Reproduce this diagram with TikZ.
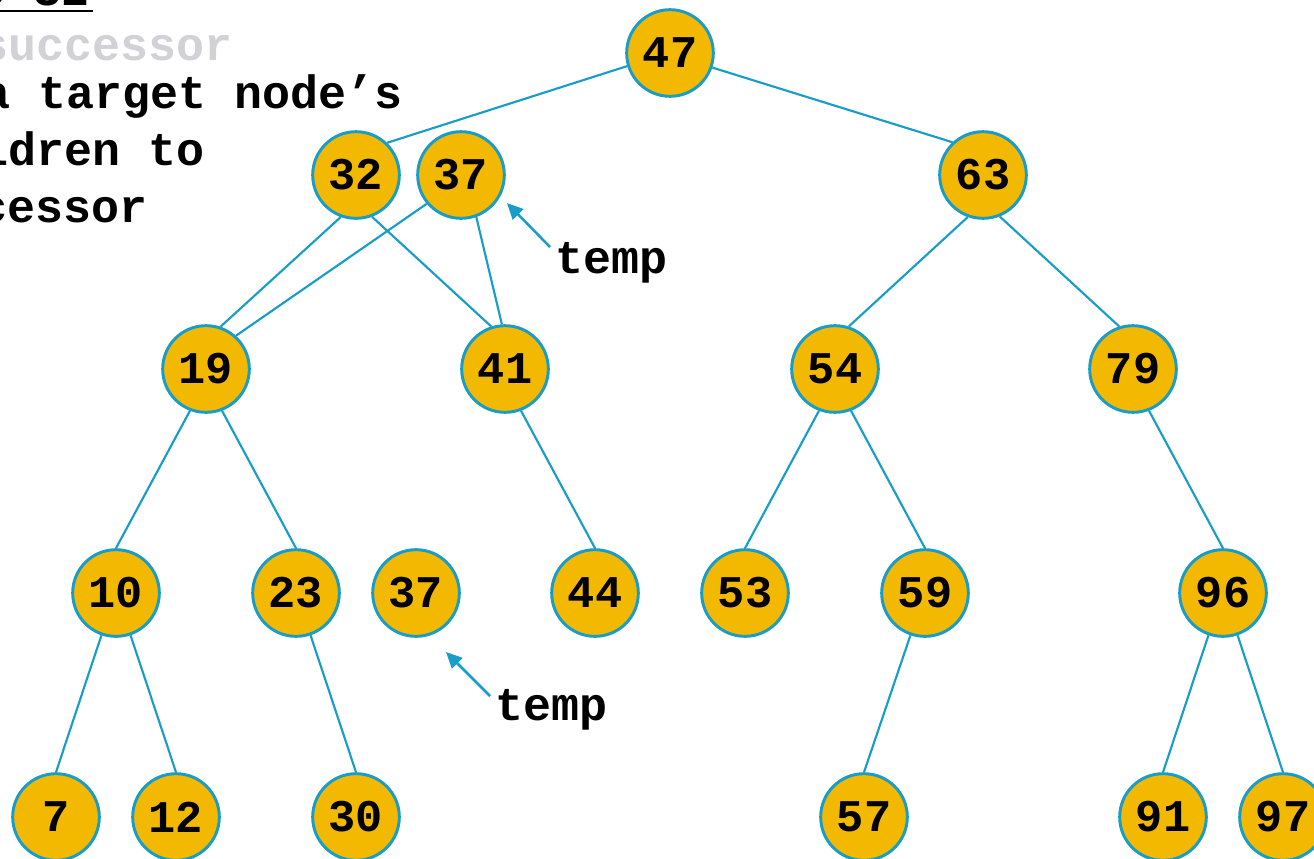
\documentclass[tikz,border=0pt]{standalone}
\usepackage{fontspec}
\setmonofont{Liberation Mono}
\usetikzlibrary{arrows.meta}
\definecolor{nodefill}{RGB}{243,185,0}
\definecolor{edgeblue}{RGB}{24,156,200}
\definecolor{fadegray}{RGB}{210,210,214}
\begin{document}
\begin{tikzpicture}[x=0.75pt,y=-0.75pt,
  keynode/.style={circle, draw=edgeblue, fill=nodefill, line width=2.2pt,
    minimum size=65pt, inner sep=0pt,
    font=\ttfamily\bfseries\fontsize{34}{38}\selectfont},
  treeedge/.style={draw=edgeblue, line width=1.6pt},
  pointer/.style={draw=edgeblue, line width=1.9pt,
    -{Triangle[length=12pt,width=11pt]}},
  codetext/.style={font=\ttfamily\bfseries\fontsize{35}{40}\selectfont,
    inner sep=0pt}
]
\useasboundingbox (0,0) rectangle (1314,858);
\clip (0,0) rectangle (1314,858);

% explanatory text, top left
\node[codetext, anchor=base east] (t0) at (90,5) {delete 32};
\draw[line width=1.5pt] ([yshift=-4.5pt]t0.base west) -- ([xshift=2pt,yshift=-4.5pt]t0.base east);
\node[codetext, anchor=base east, text=fadegray] (t1) at (233,60) {successor};
\node[codetext, anchor=base east] (t2) at (403,108) {a target node’s};
\node[codetext, anchor=base east] (t3) at (205,165) {children to};
\node[codetext, anchor=base east] (t4) at (148,222) {successor};

% tree nodes
\node[keynode] (n47) at (670,53) {47};
\node[keynode] (n32) at (356,175) {32};
\node[keynode] (n37) at (461,175) {37};
\node[keynode] (n63) at (983,175) {63};
\node[keynode] (n19) at (206,369) {19};
\node[keynode] (n41) at (505,369) {41};
\node[keynode] (n54) at (835,369) {54};
\node[keynode] (n79) at (1133,369) {79};
\node[keynode] (n10) at (116,593) {10};
\node[keynode] (n23) at (296,593) {23};
\node[keynode] (n37b) at (416,593) {37};
\node[keynode] (n44) at (595,593) {44};
\node[keynode] (n53) at (745,593) {53};
\node[keynode] (n59) at (925,593) {59};
\node[keynode] (n96) at (1223,593) {96};
\node[keynode] (n7) at (56,817) {7};
\node[keynode] (n12) at (176,817) {12};
\node[keynode] (n30) at (356,817) {30};
\node[keynode] (n57) at (864,817) {57};
\node[keynode] (n91) at (1163,817) {91};
\node[keynode] (n97) at (1283,817) {97};

% tree edges
\draw[treeedge] (n47.197) -- (n32.46);
\draw[treeedge] (n47.341) -- (n63.133);
\draw[treeedge] (n32.250) -- (n19.71);
\draw[treeedge] (n32.291) -- (n41.108);
\draw[treeedge] (n37.220) -- (n19.48);
\draw[treeedge] (n37.290) -- (n41.94);
\draw[treeedge] (n63.250) -- (n54.72);
\draw[treeedge] (n63.292) -- (n79.108);
\draw[treeedge] (n19.249) -- (n10.90);
\draw[treeedge] (n19.291) -- (n23.90);
\draw[treeedge] (n41.291) -- (n44.90);
\draw[treeedge] (n54.249) -- (n53.90);
\draw[treeedge] (n54.291) -- (n59.90);
\draw[treeedge] (n79.291) -- (n96.90);
\draw[treeedge] (n10.251) -- (n7.90);
\draw[treeedge] (n10.289) -- (n12.90);
\draw[treeedge] (n23.289) -- (n30.90);
\draw[treeedge] (n59.251) -- (n57.90);
\draw[treeedge] (n96.251) -- (n91.90);
\draw[treeedge] (n96.289) -- (n97.90);

% temp pointers
\node[codetext, anchor=base west] (temp1) at (555,273) {temp};
\coordinate (p1s) at (550,247);
\coordinate (p1e) at (507,203);
\draw[pointer] (p1s) -- (p1e);

\node[codetext, anchor=base west] (temp2) at (495,720) {temp};
\coordinate (p2s) at (490,696);
\coordinate (p2e) at (446,652);
\draw[pointer] (p2s) -- (p2e);
\end{tikzpicture}
\end{document}
